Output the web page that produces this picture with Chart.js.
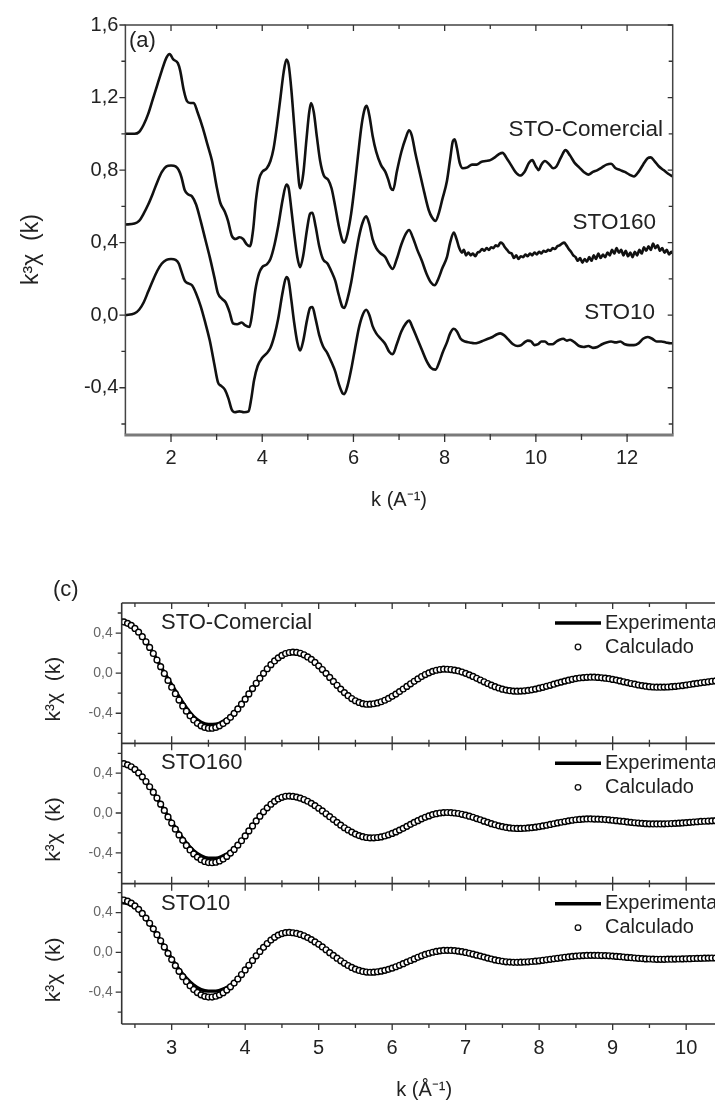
<!DOCTYPE html>
<html><head><meta charset="utf-8">
<script src="https://cdn.jsdelivr.net/npm/chart.js@4.4.0/dist/chart.umd.min.js"></script>
<style>
html,body{margin:0;padding:0;background:#fff;overflow:hidden;width:715px;height:1102px;position:relative;}
#c1{position:absolute;left:0;top:0;}
#c2{position:absolute;left:0;top:560px;}
</style></head><body>
<canvas id="c1" width="715" height="530"></canvas>
<canvas id="c2" width="740" height="560"></canvas>
<script>
// ---------- DATA: panel (a) ----------
const seriesNames = ['STO-Comercial','STO160','STO10'];
const topXTicks = [2,4,6,8,10,12];
const topXMinor = [3,5,7,9,11];
const topYTicks = [-0.4,0,0.4,0.8,1.2,1.6];
const topYMinor = [-0.6,-0.2,0.2,0.6,1.0,1.4];
const yTitle = 'k\u00B3\u03C7  (k)';

const comercialK = [1.0,1.2,1.3,1.4,1.5,1.6,1.7,1.8,1.9,1.97,
2.05,2.15,2.2,2.28,2.35,2.42,2.5,2.58,2.7,2.8,
2.9,3.0,3.08,3.18,3.25,3.33,3.42,3.5,3.58,3.66,
3.73,3.8,3.86,3.93,4.0,4.1,4.18,4.25,4.32,4.4,
4.47,4.53,4.58,4.64,4.7,4.77,4.83,4.9,4.97,5.03,
5.07,5.13,5.2,5.27,5.35,5.45,5.52,5.6,5.68,5.76,
5.8,5.87,5.95,6.03,6.1,6.18,6.25,6.29,6.35,6.42,
6.5,6.6,6.7,6.76,6.82,6.87,6.95,7.05,7.15,7.22,
7.28,7.36,7.45,7.55,7.65,7.72,7.8,7.88,7.95,8.05,
8.12,8.18,8.22,8.27,8.33,8.4,8.5,8.6,8.7,8.8,
8.9,9.0,9.1,9.2,9.27,9.35,9.45,9.55,9.65,9.75,
9.85,9.92,10.0,10.06,10.12,10.2,10.3,10.38,10.45,10.55,
10.65,10.75,10.85,10.95,11.05,11.15,11.25,11.35,11.45,11.55,
11.65,11.75,11.85,11.95,12.05,12.15,12.25,12.35,12.45,12.52,
12.6,12.7,12.8,12.9,13.0];
const comercialV = [1.0,1.0,1.01,1.05,1.11,1.19,1.27,1.35,1.42,1.44,
1.41,1.39,1.35,1.24,1.18,1.17,1.17,1.12,1.03,0.94,
0.85,0.71,0.62,0.57,0.52,0.44,0.42,0.43,0.42,0.39,
0.38,0.47,0.63,0.75,0.79,0.81,0.85,0.92,1.04,1.2,
1.34,1.41,1.38,1.24,1.05,0.83,0.70,0.78,0.97,1.12,
1.17,1.12,0.98,0.85,0.77,0.745,0.70,0.60,0.49,0.41,
0.40,0.45,0.56,0.72,0.88,1.05,1.14,1.155,1.10,0.99,
0.90,0.83,0.79,0.75,0.70,0.69,0.79,0.90,0.98,1.02,
0.99,0.89,0.79,0.68,0.58,0.54,0.52,0.57,0.64,0.74,
0.86,0.96,0.97,0.92,0.84,0.81,0.815,0.83,0.83,0.845,
0.85,0.855,0.87,0.89,0.895,0.87,0.83,0.79,0.77,0.79,
0.84,0.855,0.82,0.80,0.83,0.85,0.83,0.81,0.82,0.87,
0.91,0.88,0.84,0.815,0.79,0.775,0.79,0.80,0.815,0.83,
0.835,0.81,0.80,0.79,0.775,0.765,0.79,0.83,0.865,0.87,
0.85,0.82,0.80,0.78,0.765];

const sto160K = [1.0,1.2,1.3,1.4,1.5,1.6,1.7,1.8,1.9,2.0,
2.1,2.17,2.23,2.3,2.38,2.46,2.55,2.65,2.75,2.85,
2.95,3.03,3.12,3.2,3.28,3.36,3.45,3.55,3.62,3.72,
3.78,3.85,3.93,4.0,4.1,4.18,4.27,4.35,4.45,4.53,
4.58,4.64,4.7,4.77,4.83,4.9,4.98,5.05,5.1,5.17,
5.25,5.33,5.43,5.52,5.6,5.68,5.76,5.8,5.87,5.95,
6.03,6.12,6.2,6.28,6.35,6.42,6.5,6.6,6.7,6.78,
6.86,6.95,7.05,7.15,7.22,7.3,7.4,7.5,7.6,7.7,
7.78,7.86,7.95,8.05,8.12,8.2,8.26,8.32,8.38,8.42,
8.47,8.52,8.57,8.62,8.67,8.72,8.77,8.82,8.87,8.92,
8.97,9.02,9.07,9.12,9.17,9.22,9.27,9.32,9.37,9.42,
9.47,9.52,9.57,9.62,9.67,9.72,9.77,9.82,9.87,9.92,
9.97,10.02,10.07,10.12,10.17,10.22,10.27,10.32,10.37,10.42,
10.47,10.52,10.57,10.62,10.67,10.72,10.77,10.82,10.87,10.92,
10.97,11.02,11.07,11.12,11.17,11.22,11.27,11.32,11.37,11.42,
11.47,11.52,11.57,11.62,11.67,11.72,11.77,11.82,11.87,11.92,
11.97,12.02,12.07,12.12,12.17,12.22,12.27,12.32,12.37,12.42,
12.47,12.52,12.57,12.62,12.67,12.72,12.77,12.82,12.87,12.92,
12.97,13.0];
const sto160V = [0.5,0.505,0.52,0.56,0.61,0.67,0.735,0.79,0.82,0.825,
0.82,0.80,0.76,0.69,0.665,0.655,0.61,0.52,0.42,0.32,
0.21,0.12,0.09,0.07,0.02,-0.045,-0.05,-0.04,-0.055,-0.065,
0.01,0.14,0.23,0.265,0.28,0.31,0.39,0.49,0.64,0.72,
0.70,0.58,0.45,0.32,0.265,0.33,0.47,0.56,0.565,0.49,
0.38,0.31,0.285,0.24,0.19,0.11,0.045,0.04,0.09,0.18,
0.30,0.43,0.51,0.545,0.50,0.42,0.37,0.34,0.32,0.28,
0.255,0.31,0.39,0.45,0.47,0.43,0.36,0.30,0.23,0.18,
0.165,0.20,0.26,0.32,0.40,0.455,0.42,0.37,0.345,0.36,
0.33,0.345,0.33,0.34,0.325,0.345,0.35,0.365,0.355,0.37,
0.36,0.375,0.37,0.385,0.38,0.40,0.395,0.375,0.36,0.345,
0.34,0.315,0.33,0.31,0.325,0.32,0.335,0.325,0.34,0.33,
0.345,0.335,0.35,0.34,0.355,0.35,0.36,0.355,0.37,0.365,
0.38,0.385,0.395,0.40,0.385,0.365,0.35,0.33,0.32,0.30,
0.315,0.29,0.31,0.295,0.32,0.30,0.33,0.31,0.34,0.315,
0.335,0.32,0.345,0.33,0.36,0.34,0.37,0.345,0.36,0.33,
0.355,0.325,0.345,0.32,0.35,0.33,0.36,0.34,0.375,0.355,
0.38,0.36,0.395,0.37,0.385,0.355,0.37,0.345,0.36,0.335,
0.35,0.34];

const sto10K = [1.0,1.2,1.3,1.4,1.5,1.6,1.7,1.8,1.9,2.0,
2.1,2.17,2.23,2.3,2.38,2.46,2.55,2.65,2.75,2.85,
2.95,3.03,3.1,3.18,3.26,3.33,3.4,3.5,3.6,3.7,
3.76,3.82,3.9,4.0,4.1,4.18,4.27,4.35,4.45,4.53,
4.58,4.64,4.7,4.77,4.83,4.9,4.98,5.05,5.1,5.17,
5.25,5.33,5.43,5.52,5.6,5.68,5.76,5.8,5.87,5.95,
6.03,6.12,6.2,6.28,6.35,6.42,6.5,6.6,6.7,6.78,
6.86,6.95,7.05,7.15,7.22,7.3,7.4,7.5,7.6,7.7,
7.8,7.88,7.95,8.05,8.12,8.2,8.27,8.35,8.45,8.55,
8.65,8.75,8.85,8.95,9.05,9.15,9.22,9.3,9.4,9.5,
9.6,9.68,9.75,9.82,9.9,9.97,10.05,10.12,10.2,10.28,
10.36,10.45,10.52,10.6,10.68,10.75,10.85,10.95,11.05,11.15,
11.25,11.35,11.45,11.55,11.65,11.75,11.85,11.95,12.05,12.15,
12.25,12.35,12.45,12.55,12.65,12.75,12.85,12.95,13.0];
const sto10V = [0.0,0.01,0.03,0.07,0.13,0.19,0.245,0.285,0.305,0.31,
0.305,0.285,0.24,0.19,0.175,0.165,0.12,0.05,-0.04,-0.14,
-0.27,-0.37,-0.39,-0.41,-0.46,-0.52,-0.535,-0.53,-0.535,-0.53,
-0.46,-0.36,-0.28,-0.235,-0.21,-0.18,-0.11,-0.02,0.13,0.21,
0.19,0.08,-0.04,-0.15,-0.195,-0.14,-0.03,0.04,0.045,-0.02,
-0.11,-0.17,-0.21,-0.26,-0.31,-0.38,-0.43,-0.435,-0.39,-0.30,
-0.19,-0.07,0.0,0.03,0.0,-0.06,-0.10,-0.13,-0.16,-0.2,
-0.215,-0.16,-0.09,-0.045,-0.03,-0.07,-0.13,-0.19,-0.25,-0.29,
-0.30,-0.26,-0.21,-0.15,-0.1,-0.075,-0.09,-0.13,-0.145,-0.15,
-0.155,-0.15,-0.14,-0.13,-0.12,-0.105,-0.10,-0.11,-0.135,-0.16,
-0.17,-0.165,-0.15,-0.14,-0.145,-0.165,-0.16,-0.145,-0.145,-0.16,
-0.16,-0.145,-0.135,-0.13,-0.14,-0.135,-0.15,-0.17,-0.175,-0.17,
-0.18,-0.175,-0.16,-0.15,-0.145,-0.15,-0.145,-0.16,-0.165,-0.165,
-0.155,-0.13,-0.12,-0.13,-0.145,-0.145,-0.15,-0.155,-0.155];

// ---------- DATA: panel (c) ----------
const botXTicks = [3,4,5,6,7,8,9,10];
const botXMinor = [2.5,3.5,4.5,5.5,6.5,7.5,8.5,9.5,10.5];
const botYTicks = [-0.4,0,0.4];
const botYMinor = [-0.6,-0.2,0.2,0.6];
const legendNames = ['Experimental','Calculado'];

const kCalc = [2.3,2.35,2.4,2.45,2.5,2.55,2.6,2.65,2.7,2.75,
2.8,2.85,2.9,2.95,3,3.05,3.1,3.15,3.2,3.25,
3.3,3.35,3.4,3.45,3.5,3.55,3.6,3.65,3.7,3.75,
3.8,3.85,3.9,3.95,4,4.05,4.1,4.15,4.2,4.25,
4.3,4.35,4.4,4.45,4.5,4.55,4.6,4.65,4.7,4.75,
4.8,4.85,4.9,4.95,5,5.05,5.1,5.15,5.2,5.25,
5.3,5.35,5.4,5.45,5.5,5.55,5.6,5.65,5.7,5.75,
5.8,5.85,5.9,5.95,6,6.05,6.1,6.15,6.2,6.25,
6.3,6.35,6.4,6.45,6.5,6.55,6.6,6.65,6.7,6.75,
6.8,6.85,6.9,6.95,7,7.05,7.1,7.15,7.2,7.25,
7.3,7.35,7.4,7.45,7.5,7.55,7.6,7.65,7.7,7.75,
7.8,7.85,7.9,7.95,8,8.05,8.1,8.15,8.2,8.25,
8.3,8.35,8.4,8.45,8.5,8.55,8.6,8.65,8.7,8.75,
8.8,8.85,8.9,8.95,9,9.05,9.1,9.15,9.2,9.25,
9.3,9.35,9.4,9.45,9.5,9.55,9.6,9.65,9.7,9.75,
9.8,9.85,9.9,9.95,10,10.05,10.1,10.15,10.2,10.25,
10.3,10.35,10.4,10.45,10.5,10.55,10.6];
const calcA = [0.515,0.511,0.497,0.476,0.446,0.409,0.364,0.313,0.257,0.196,
0.131,0.065,-0.004,-0.072,-0.140,-0.205,-0.268,-0.327,-0.379,-0.426,
-0.467,-0.500,-0.525,-0.541,-0.549,-0.549,-0.541,-0.525,-0.503,-0.475,
-0.441,-0.401,-0.357,-0.309,-0.259,-0.207,-0.154,-0.101,-0.051,-0.002,
0.044,0.085,0.122,0.153,0.177,0.196,0.206,0.210,0.207,0.198,
0.183,0.162,0.137,0.107,0.073,0.036,-0.002,-0.042,-0.082,-0.121,
-0.159,-0.194,-0.225,-0.253,-0.275,-0.292,-0.304,-0.310,-0.309,-0.305,
-0.297,-0.285,-0.270,-0.252,-0.231,-0.209,-0.184,-0.158,-0.132,-0.106,
-0.081,-0.057,-0.034,-0.014,0.003,0.018,0.029,0.036,0.040,0.039,
0.036,0.030,0.022,0.011,-0.002,-0.017,-0.033,-0.051,-0.068,-0.086,
-0.103,-0.120,-0.135,-0.148,-0.160,-0.169,-0.175,-0.179,-0.180,-0.179,
-0.176,-0.172,-0.166,-0.159,-0.150,-0.141,-0.131,-0.121,-0.110,-0.099,
-0.089,-0.079,-0.070,-0.061,-0.054,-0.048,-0.044,-0.041,-0.040,-0.040,
-0.042,-0.046,-0.050,-0.055,-0.062,-0.069,-0.077,-0.086,-0.094,-0.103,
-0.110,-0.118,-0.124,-0.130,-0.135,-0.138,-0.140,-0.140,-0.139,-0.138,
-0.135,-0.132,-0.128,-0.124,-0.118,-0.113,-0.107,-0.102,-0.096,-0.091,
-0.086,-0.081,-0.077,-0.074,-0.072,-0.071,-0.070];
const calcB = [0.500,0.496,0.484,0.464,0.438,0.403,0.363,0.316,0.264,0.209,
0.150,0.089,0.026,-0.039,-0.101,-0.162,-0.220,-0.275,-0.326,-0.371,
-0.411,-0.443,-0.469,-0.487,-0.498,-0.500,-0.495,-0.482,-0.463,-0.436,
-0.403,-0.366,-0.323,-0.279,-0.230,-0.180,-0.130,-0.080,-0.032,0.012,
0.052,0.088,0.117,0.141,0.158,0.168,0.170,0.167,0.160,0.149,
0.135,0.118,0.097,0.074,0.048,0.021,-0.008,-0.037,-0.066,-0.094,
-0.122,-0.148,-0.171,-0.192,-0.212,-0.227,-0.238,-0.246,-0.250,-0.249,
-0.246,-0.240,-0.231,-0.219,-0.205,-0.190,-0.172,-0.154,-0.134,-0.114,
-0.095,-0.077,-0.059,-0.043,-0.029,-0.016,-0.007,0.000,0.004,0.005,
0.003,0.000,-0.005,-0.013,-0.022,-0.032,-0.043,-0.056,-0.068,-0.082,
-0.094,-0.107,-0.118,-0.129,-0.137,-0.145,-0.150,-0.153,-0.155,-0.155,
-0.153,-0.150,-0.147,-0.142,-0.136,-0.130,-0.123,-0.115,-0.108,-0.100,
-0.093,-0.086,-0.079,-0.073,-0.068,-0.065,-0.062,-0.060,-0.060,-0.061,
-0.062,-0.064,-0.066,-0.069,-0.073,-0.077,-0.081,-0.085,-0.090,-0.094,
-0.098,-0.101,-0.104,-0.107,-0.109,-0.110,-0.110,-0.110,-0.109,-0.108,
-0.106,-0.104,-0.102,-0.100,-0.097,-0.094,-0.091,-0.088,-0.085,-0.083,
-0.081,-0.079,-0.077,-0.076,-0.075,-0.075,-0.075];
const calcC = [0.530,0.526,0.514,0.494,0.466,0.432,0.391,0.344,0.292,0.236,
0.177,0.116,0.053,-0.010,-0.073,-0.133,-0.191,-0.245,-0.293,-0.336,
-0.374,-0.404,-0.427,-0.442,-0.449,-0.449,-0.441,-0.427,-0.406,-0.379,
-0.346,-0.309,-0.268,-0.223,-0.177,-0.130,-0.082,-0.035,0.009,0.050,
0.089,0.123,0.151,0.173,0.189,0.198,0.200,0.197,0.190,0.180,
0.166,0.148,0.128,0.105,0.081,0.054,0.026,-0.003,-0.031,-0.059,
-0.085,-0.110,-0.132,-0.152,-0.169,-0.182,-0.192,-0.198,-0.200,-0.199,
-0.195,-0.189,-0.181,-0.171,-0.159,-0.145,-0.130,-0.114,-0.098,-0.082,
-0.066,-0.050,-0.035,-0.021,-0.009,0.001,0.009,0.015,0.019,0.020,
0.019,0.017,0.012,0.007,-0.001,-0.009,-0.018,-0.028,-0.038,-0.048,
-0.058,-0.067,-0.076,-0.084,-0.090,-0.095,-0.098,-0.100,-0.100,-0.099,
-0.097,-0.095,-0.092,-0.089,-0.085,-0.080,-0.075,-0.070,-0.065,-0.060,
-0.055,-0.050,-0.046,-0.041,-0.038,-0.035,-0.033,-0.031,-0.030,-0.030,
-0.031,-0.032,-0.033,-0.035,-0.038,-0.041,-0.044,-0.047,-0.051,-0.054,
-0.057,-0.060,-0.063,-0.066,-0.067,-0.069,-0.070,-0.070,-0.070,-0.069,
-0.069,-0.068,-0.067,-0.066,-0.065,-0.064,-0.062,-0.061,-0.060,-0.059,
-0.058,-0.057,-0.057,-0.056,-0.056,-0.055,-0.055];

const kExp = [2.3,2.4,2.5,2.6,2.7,2.8,2.9,3.0,3.1,3.2,
3.3,3.4,3.5,3.6,3.7,3.8,3.9,4.0,4.1,4.2,
4.3,4.4,4.5,4.6,4.7,4.8,4.9,5.0,5.1,5.2,
5.3,5.4,5.5,5.6,5.7,5.8,5.9,6.0,6.1,6.2,
6.3,6.4,6.5,6.6,6.7,6.8,6.9,7.0,7.1,7.2,
7.3,7.4,7.5,7.6,7.7,7.8,7.9,8.0,8.1,8.2,
8.3,8.4,8.5,8.6,8.7,8.8,8.9,9.0,9.1,9.2,
9.3,9.4,9.5,9.6,9.7,9.8,9.9,10.0,10.1,10.2,
10.3,10.4,10.5,10.6];
const expA = [0.50,0.49,0.445,0.365,0.26,0.135,0.005,-0.115,-0.235,-0.345,
-0.435,-0.49,-0.512,-0.51,-0.48,-0.43,-0.35,-0.259,-0.154,-0.051,
0.044,0.122,0.177,0.206,0.207,0.183,0.137,0.073,-0.002,-0.082,
-0.159,-0.225,-0.275,-0.304,-0.309,-0.297,-0.270,-0.231,-0.184,-0.132,
-0.081,-0.034,0.003,0.029,0.040,0.036,0.022,-0.002,-0.033,-0.068,
-0.103,-0.135,-0.160,-0.175,-0.180,-0.176,-0.166,-0.150,-0.131,-0.110,
-0.089,-0.070,-0.054,-0.044,-0.040,-0.042,-0.050,-0.062,-0.077,-0.094,
-0.110,-0.124,-0.135,-0.140,-0.139,-0.135,-0.128,-0.118,-0.107,-0.096,
-0.086,-0.077,-0.072,-0.070];
const expB = [0.50,0.484,0.438,0.363,0.264,0.150,0.03,-0.09,-0.20,-0.30,
-0.38,-0.43,-0.455,-0.455,-0.43,-0.39,-0.32,-0.230,-0.130,-0.032,
0.052,0.117,0.158,0.170,0.160,0.135,0.097,0.048,-0.008,-0.066,
-0.122,-0.171,-0.212,-0.238,-0.250,-0.246,-0.231,-0.205,-0.172,-0.134,
-0.095,-0.059,-0.029,-0.007,0.004,0.003,-0.005,-0.022,-0.043,-0.068,
-0.094,-0.118,-0.137,-0.150,-0.155,-0.153,-0.147,-0.136,-0.123,-0.108,
-0.093,-0.079,-0.068,-0.062,-0.060,-0.062,-0.066,-0.073,-0.081,-0.090,
-0.098,-0.104,-0.109,-0.110,-0.109,-0.106,-0.102,-0.097,-0.091,-0.085,
-0.081,-0.077,-0.075,-0.075];
const expC = [0.50,0.49,0.452,0.385,0.288,0.177,0.06,-0.06,-0.17,-0.26,
-0.33,-0.375,-0.39,-0.39,-0.37,-0.33,-0.262,-0.177,-0.082,0.009,
0.089,0.151,0.189,0.200,0.190,0.166,0.128,0.081,0.026,-0.031,
-0.085,-0.132,-0.169,-0.192,-0.200,-0.195,-0.181,-0.159,-0.130,-0.098,
-0.066,-0.035,-0.009,0.009,0.019,0.019,0.012,-0.001,-0.018,-0.038,
-0.058,-0.076,-0.090,-0.098,-0.100,-0.097,-0.092,-0.085,-0.075,-0.065,
-0.055,-0.046,-0.038,-0.033,-0.030,-0.031,-0.033,-0.038,-0.044,-0.051,
-0.057,-0.063,-0.067,-0.070,-0.070,-0.069,-0.067,-0.065,-0.062,-0.060,
-0.058,-0.057,-0.056,-0.055];

// ---------- RENDERING ----------
const FONT = "'Liberation Sans', Arial, Helvetica, sans-serif";
Chart.defaults.font.family = FONT;
Chart.defaults.color = '#222';
const toXY = (ks, vs) => ks.map((k, i) => ({x: k, y: vs[i]}));
const fmt = v => (Math.abs(v) < 1e-9 ? 0 : v).toFixed(1).replace('.', ',');

function strokeTicks(ctx, list) {
  ctx.beginPath();
  for (const [x1, y1, x2, y2] of list) { ctx.moveTo(x1, y1); ctx.lineTo(x2, y2); }
  ctx.stroke();
}
function vText(ctx, text, cx, cy, font) {
  ctx.save();
  ctx.translate(cx, cy); ctx.rotate(-Math.PI / 2);
  ctx.font = font; ctx.textAlign = 'center'; ctx.textBaseline = 'middle'; ctx.fillStyle = '#222';
  ctx.fillText(text, 0, 0);
  ctx.restore();
}

const topDecor = {
  id: 'topDecor',
  afterDraw(chart) {
    const {ctx, chartArea: a, scales: {x, y}} = chart;
    ctx.save();
    ctx.strokeStyle = '#444'; ctx.lineWidth = 1.5;
    ctx.beginPath();
    ctx.moveTo(a.left, a.bottom); ctx.lineTo(a.left, a.top); ctx.lineTo(a.right, a.top); ctx.lineTo(a.right, a.bottom);
    ctx.stroke();
    ctx.strokeStyle = '#7a7a7a'; ctx.lineWidth = 3;
    ctx.beginPath(); ctx.moveTo(a.left - 1, a.bottom + 1); ctx.lineTo(a.right + 1, a.bottom + 1); ctx.stroke();
    ctx.strokeStyle = '#333'; ctx.lineWidth = 1.3;
    const t = [];
    topXTicks.forEach(v => { const p = x.getPixelForValue(v); t.push([p, a.bottom, p, a.bottom + 8], [p, a.top, p, a.top + 6]); });
    topXMinor.forEach(v => { const p = x.getPixelForValue(v); t.push([p, a.bottom, p, a.bottom + 6], [p, a.top, p, a.top + 4]); });
    topYTicks.forEach(v => { const p = y.getPixelForValue(v); t.push([a.left - 6, p, a.left, p], [a.right - 5, p, a.right, p]); });
    topYMinor.forEach(v => { const p = y.getPixelForValue(v); t.push([a.left - 4, p, a.left, p], [a.right - 4, p, a.right, p]); });
    strokeTicks(ctx, t);
    vText(ctx, yTitle, 32, (a.top + a.bottom) / 2 + 20, '23px ' + FONT);
    ctx.fillStyle = '#222'; ctx.textBaseline = 'middle';
    ctx.font = '22px ' + FONT; ctx.textAlign = 'left';
    ctx.fillText('(a)', 129, 41);
    ctx.font = '22.5px ' + FONT; ctx.textAlign = 'right';
    ctx.fillText(seriesNames[0], 663, 130);
    ctx.fillText(seriesNames[1], 656, 223);
    ctx.fillText(seriesNames[2], 655, 313);
    ctx.restore();
  }
};

const lineTop = {borderColor: '#111', borderWidth: 2.6, pointRadius: 0, cubicInterpolationMode: 'monotone', fill: false};

new Chart(document.getElementById('c1'), {
  type: 'line',
  data: {datasets: [
    Object.assign({label: seriesNames[0], data: toXY(comercialK, comercialV)}, lineTop),
    Object.assign({label: seriesNames[1], data: toXY(sto160K, sto160V)}, lineTop),
    Object.assign({label: seriesNames[2], data: toXY(sto10K, sto10V)}, lineTop)
  ]},
  options: {
    responsive: false, animation: false, events: [],
    layout: {padding: {left: 0, right: 42.3, top: 25, bottom: 0}},
    plugins: {legend: {display: false}, tooltip: {enabled: false}},
    scales: {
      x: {type: 'linear', position: 'bottom', min: 1, max: 13,
        afterFit: s => { s.height = 96; },
        afterBuildTicks: s => { s.ticks = topXTicks.map(v => ({value: v})); },
        grid: {display: false, drawTicks: false}, border: {display: false},
        ticks: {padding: 12, font: {size: 20}, color: '#222', maxRotation: 0, autoSkip: false, callback: v => String(v)},
        title: {display: true, text: 'k (A\u207B\u00B9)', font: {size: 20}, color: '#222', padding: {top: 0, bottom: 18}}
      },
      y: {type: 'linear', position: 'left', min: -0.655, max: 1.6,
        afterFit: s => { s.width = 125.4; },
        afterBuildTicks: s => { s.ticks = topYTicks.map(v => ({value: v})); },
        grid: {display: false, drawTicks: false}, border: {display: false},
        ticks: {padding: 7, font: {size: 20}, color: '#222', callback: v => fmt(v)},
        title: {display: false}
      }
    }
  },
  plugins: [topDecor]
});

// ---------- panel (c) ----------
const botDecor = {
  id: 'botDecor',
  afterDraw(chart) {
    const {ctx, chartArea: a, scales} = chart;
    const x = scales.x;
    const panels = [scales.yA, scales.yB, scales.yC];
    ctx.save();
    ctx.strokeStyle = '#333'; ctx.lineWidth = 1.6;
    ctx.beginPath();
    ctx.moveTo(a.left, a.top); ctx.lineTo(a.left, a.bottom);
    ctx.moveTo(a.left, a.top); ctx.lineTo(a.right, a.top);
    panels.forEach(p => { ctx.moveTo(a.left, p.bottom); ctx.lineTo(a.right, p.bottom); });
    ctx.stroke();
    ctx.lineWidth = 1.3;
    const t = [];
    botXTicks.forEach(v => {
      const px = x.getPixelForValue(v);
      t.push([px, a.top, px, a.top + 6]);
      t.push([px, panels[0].bottom - 7, px, panels[0].bottom + 7]);
      t.push([px, panels[1].bottom - 7, px, panels[1].bottom + 7]);
      t.push([px, a.bottom, px, a.bottom + 6]);
    });
    botXMinor.forEach(v => {
      const px = x.getPixelForValue(v);
      t.push([px, a.top, px, a.top + 4]);
      t.push([px, panels[0].bottom - 3.5, px, panels[0].bottom + 3.5]);
      t.push([px, panels[1].bottom - 3.5, px, panels[1].bottom + 3.5]);
      t.push([px, a.bottom, px, a.bottom + 4]);
    });
    panels.forEach(p => {
      botYTicks.forEach(v => { const py = p.getPixelForValue(v); t.push([a.left - 6, py, a.left, py]); });
      botYMinor.forEach(v => { const py = p.getPixelForValue(v); t.push([a.left - 4, py, a.left, py]); });
    });
    strokeTicks(ctx, t);
    ctx.fillStyle = '#222'; ctx.textBaseline = 'middle'; ctx.textAlign = 'left';
    ctx.font = '22px ' + FONT;
    ctx.fillText('(c)', 53, 30);
    panels.forEach((p, i) => {
      vText(ctx, yTitle, 54, (p.top + p.bottom) / 2 + 16, '21px ' + FONT);
      ctx.fillStyle = '#222'; ctx.textBaseline = 'middle'; ctx.textAlign = 'left';
      ctx.font = '22px ' + FONT;
      ctx.fillText(seriesNames[i], 161, p.top + 20);
      ctx.font = '20px ' + FONT;
      ctx.fillText(legendNames[0], 605, p.top + 20);
      ctx.fillText(legendNames[1], 605, p.top + 44);
      ctx.strokeStyle = '#000'; ctx.lineWidth = 3.5;
      ctx.beginPath(); ctx.moveTo(555, p.top + 20); ctx.lineTo(601, p.top + 20); ctx.stroke();
      ctx.strokeStyle = '#111'; ctx.lineWidth = 1.3;
      ctx.beginPath(); ctx.arc(578, p.top + 44, 2.8, 0, Math.PI * 2); ctx.stroke();
    });
    ctx.restore();
  }
};

const yPanel = (min, max) => ({
  type: 'linear', position: 'left', stack: 'panels', stackWeight: 1, min, max,
  afterFit: s => { s.width = 121.7; },
  afterBuildTicks: s => { s.ticks = botYTicks.map(v => ({value: v})); },
  grid: {display: false, drawTicks: false}, border: {display: false},
  ticks: {padding: 9, font: {size: 14}, color: '#666', callback: v => fmt(v)},
  title: {display: false}
});

const calcStyle = {showLine: false, pointRadius: 2.9, pointBorderWidth: 1.4, pointBorderColor: '#000', pointBackgroundColor: '#fff', order: 0};
const expStyle = {borderColor: '#000', borderWidth: 3.4, pointRadius: 0, cubicInterpolationMode: 'monotone', fill: false, order: 1};

new Chart(document.getElementById('c2'), {
  type: 'line',
  data: {datasets: [
    Object.assign({label: legendNames[1] + ' A', data: toXY(kCalc, calcA), yAxisID: 'yA'}, calcStyle),
    Object.assign({label: legendNames[1] + ' B', data: toXY(kCalc, calcB), yAxisID: 'yB'}, calcStyle),
    Object.assign({label: legendNames[1] + ' C', data: toXY(kCalc, calcC), yAxisID: 'yC'}, calcStyle),
    Object.assign({label: legendNames[0] + ' A', data: toXY(kExp, expA), yAxisID: 'yA'}, expStyle),
    Object.assign({label: legendNames[0] + ' B', data: toXY(kExp, expB), yAxisID: 'yB'}, expStyle),
    Object.assign({label: legendNames[0] + ' C', data: toXY(kExp, expC), yAxisID: 'yC'}, expStyle)
  ]},
  options: {
    responsive: false, animation: false, events: [],
    layout: {padding: {left: 0, right: 13.4, top: 43, bottom: 0}},
    plugins: {legend: {display: false}, tooltip: {enabled: false}},
    scales: {
      x: {type: 'linear', position: 'bottom', min: 2.32, max: 10.55,
        afterFit: s => { s.height = 96; },
        afterBuildTicks: s => { s.ticks = botXTicks.map(v => ({value: v})); },
        grid: {display: false, drawTicks: false}, border: {display: false},
        ticks: {padding: 12, font: {size: 20}, color: '#222', maxRotation: 0, autoSkip: false, callback: v => String(v)},
        title: {display: true, text: 'k (\u00C5\u207B\u00B9)', font: {size: 20}, color: '#222', padding: {top: 0, bottom: 18}}
      },
      yC: yPanel(-0.72, 0.69),
      yB: yPanel(-0.71, 0.70),
      yA: yPanel(-0.70, 0.70)
    }
  },
  plugins: [botDecor]
});
</script>
</body></html>
